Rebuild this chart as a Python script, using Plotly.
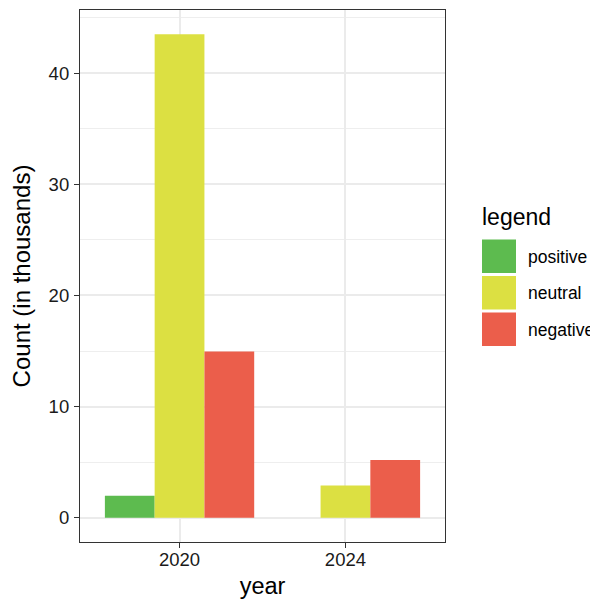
import plotly.graph_objects as go

years = ["2020", "2024"]
sentiments = ["positive", "neutral", "negative"]
positive = [1.98, 0]
neutral = [43.5, 2.9]
negative = [14.95, 5.2]
colors = {"positive": "#5DBB4F", "neutral": "#DCE042", "negative": "#EB5E4B"}
values = {"positive": positive, "neutral": neutral, "negative": negative}

# page is offset by the default 8px body margin
OFF = 8
W, H = 598 - OFF, 599 - OFF
L, R, T, B = 80 - OFF, 153, 10 - OFF, 57
FONT = "Liberation Sans, Arial, sans-serif"

fig = go.Figure()
for s in sentiments:
    fig.add_trace(go.Bar(x=years, y=values[s], name=s, marker_color=colors[s],
                         marker_line_width=0, showlegend=False))

ymax = max(max(v) for v in values.values())
pad = 0.05 * ymax

pw, ph = W - L - R, H - T - B
def px_x(x):
    return (x - OFF - L) / pw
def px_y(y):
    return (H - B - (y - OFF)) / ph

# manual legend (ggplot-style large keys)
fig.add_annotation(x=px_x(480), y=px_y(217), xref="paper", yref="paper", text="legend",
                   showarrow=False, xanchor="left", yanchor="middle",
                   font=dict(family=FONT, size=23, color="black"))
for i, s in enumerate(sentiments):
    top = 239.5 + i * 36.5
    fig.add_shape(type="rect", xref="paper", yref="paper",
                  x0=px_x(482), x1=px_x(516), y0=px_y(top), y1=px_y(top + 33.5),
                  fillcolor=colors[s], line=dict(width=0))
    fig.add_annotation(x=px_x(526), y=px_y(top + 17), xref="paper", yref="paper", text=s,
                       showarrow=False, xanchor="left", yanchor="middle",
                       font=dict(family=FONT, size=17.5, color="black"))

fig.update_layout(
    width=W, height=H, margin=dict(l=L, r=R, t=T, b=B, pad=0),
    paper_bgcolor="white", plot_bgcolor="white",
    barmode="group", bargap=0.1, bargroupgap=0,
    font=dict(family=FONT, color="black"),
    showlegend=False,
)
fig.update_xaxes(type="category", range=[-0.6, 1.6], automargin=False,
                 showgrid=True, gridcolor="#EBEBEB", gridwidth=1.5,
                 showline=True, mirror=True, linecolor="#333333", linewidth=1.2,
                 ticks="outside", ticklen=5, tickcolor="#333333", tickwidth=1.2,
                 ticklabelstandoff=-4,
                 tickfont=dict(family=FONT, size=18.5, color="#1a1a1a"),
                 title=dict(text="year", font=dict(family=FONT, size=23.5, color="black"), standoff=8),
                 zeroline=False)
fig.update_yaxes(range=[-pad, ymax + pad], dtick=10, tick0=0, automargin=False,
                 showgrid=True, gridcolor="#EBEBEB", gridwidth=1.5,
                 minor=dict(dtick=5, showgrid=True, gridcolor="#EEEEEE", gridwidth=0.9),
                 showline=True, mirror=True, linecolor="#333333", linewidth=1.2,
                 ticks="outside", ticklen=5, tickcolor="#333333", tickwidth=1.2,
                 ticklabelstandoff=1,
                 tickfont=dict(family=FONT, size=18.5, color="#1a1a1a"),
                 title=dict(text="Count (in thousands)", font=dict(family=FONT, size=24, color="black"), standoff=12),
                 zeroline=False)

fig.write_html("out.html")
